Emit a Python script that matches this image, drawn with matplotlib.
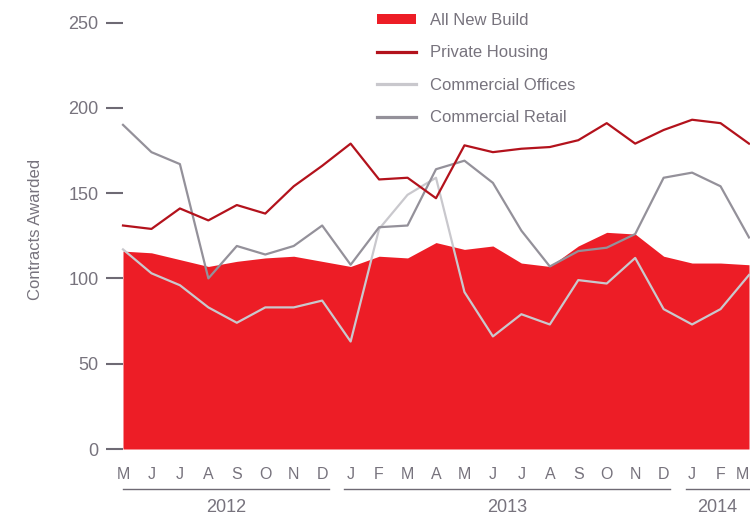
import matplotlib
matplotlib.use("Agg")
import matplotlib.pyplot as plt
from matplotlib.lines import Line2D
import numpy as np

months = ["M", "J", "J", "A", "S", "O", "N", "D",
          "J", "F", "M", "A", "M", "J", "J", "A", "S", "O", "N", "D",
          "J", "F", "M"]
years = ["2012", "2013", "2014"]
year_spans = [(0, 7), (8, 19), (20, 22)]

all_new_build = [116, 115, 111, 107, 110, 112, 113, 110,
                 107, 113, 112, 121, 117, 119, 109, 107, 119, 127, 126, 113,
                 109, 109, 108]
private_housing = [131, 129, 141, 134, 143, 138, 154, 166,
                   179, 158, 159, 147, 178, 174, 176, 177, 181, 191, 179, 187,
                   193, 191, 179]
commercial_offices = [117, 103, 96, 83, 74, 83, 83, 87,
                      63, 129, 149, 159, 92, 66, 79, 73, 99, 97, 112, 82,
                      73, 82, 102]
commercial_retail = [190, 174, 167, 100, 119, 114, 119, 131,
                     108, 130, 131, 164, 169, 156, 128, 107, 116, 118, 126, 159,
                     162, 154, 124]

text_color = "#77737D"
fill_color = "#ED1D26"
housing_color = "#B3121C"
offices_color = "#C9C8CD"
retail_color = "#94919A"

plt.rcParams['font.family'] = ['Liberation Sans', 'DejaVu Sans']

W, H = 750, 517
fig = plt.figure(figsize=(W / 100, H / 100), dpi=100)
ax_left, ax_right = 123 / W, 749 / W
ax_bottom, ax_top = 1 - 449 / H, 1 - 22.5 / H
ax = fig.add_axes([ax_left, ax_bottom, ax_right - ax_left, ax_top - ax_bottom])

x = np.arange(len(months))
ax.fill_between(x, 0, all_new_build, color=fill_color, linewidth=0,
                label="All New Build", zorder=1)
ax.plot(x, commercial_offices, color=offices_color, lw=1.6,
        label="Commercial Offices", zorder=2, clip_on=False)
ax.plot(x, commercial_retail, color=retail_color, lw=1.6,
        label="Commercial Retail", zorder=3, clip_on=False)
ax.plot(x, private_housing, color=housing_color, lw=1.6,
        label="Private Housing", zorder=4, clip_on=False)

ax.set_xlim(0, len(months) - 1)
ax.set_ylim(0, 250)
for s in ax.spines.values():
    s.set_visible(False)

ax.set_yticks([0, 50, 100, 150, 200, 250])
ax.tick_params(axis='y', length=12.2, width=1.5, color="#6E6A74",
               labelcolor=text_color, labelsize=13, pad=5.5)
ax.set_xticks(x)
ax.set_xticklabels(months)
ax.tick_params(axis='x', length=0, labelcolor=text_color, labelsize=11.5, pad=13)
ax.get_xticklabels()[-1].set_horizontalalignment('right')

ax.set_ylabel("Contracts Awarded", color=text_color, fontsize=12)
ax.yaxis.set_label_coords((43 - 123) / (749 - 123), (449 - 229) / (449 - 22.5))

# year grouping lines and labels
trans = ax.get_xaxis_transform()
line_y = (449 - 489) / (449 - 22.5)
label_y = (449 - 508) / (449 - 22.5)
last = len(months) - 1
for yr, (a, b) in zip(years, year_spans):
    x0 = a if a == 0 else a - 0.22
    x1 = b + 0.24 if b < last else b
    ax.plot([x0, x1], [line_y, line_y], transform=trans, color="#6E6A74",
            lw=1.0, clip_on=False)
    ax.text((x0 + x1) / 2, label_y, yr, transform=trans, ha='center',
            va='center', color=text_color, fontsize=13)

# legend
labels = ["All New Build", "Private Housing", "Commercial Offices", "Commercial Retail"]
handles, hl = ax.get_legend_handles_labels()
hmap = dict(zip(hl, handles))
leg_handles = [hmap["All New Build"],
               Line2D([], [], color=housing_color, lw=2.3),
               Line2D([], [], color=offices_color, lw=2.3),
               Line2D([], [], color=retail_color, lw=2.3)]
leg = fig.legend(leg_handles, labels, loc='upper left',
                 bbox_to_anchor=(377 / W, 1 - 13 / H), frameon=False,
                 fontsize=12, handlelength=2.35, handleheight=0.6,
                 handletextpad=0.85, labelspacing=1.05, borderpad=0,
                 borderaxespad=0)
for t in leg.get_texts():
    t.set_color(text_color)

fig.savefig("out.png", dpi=100)
